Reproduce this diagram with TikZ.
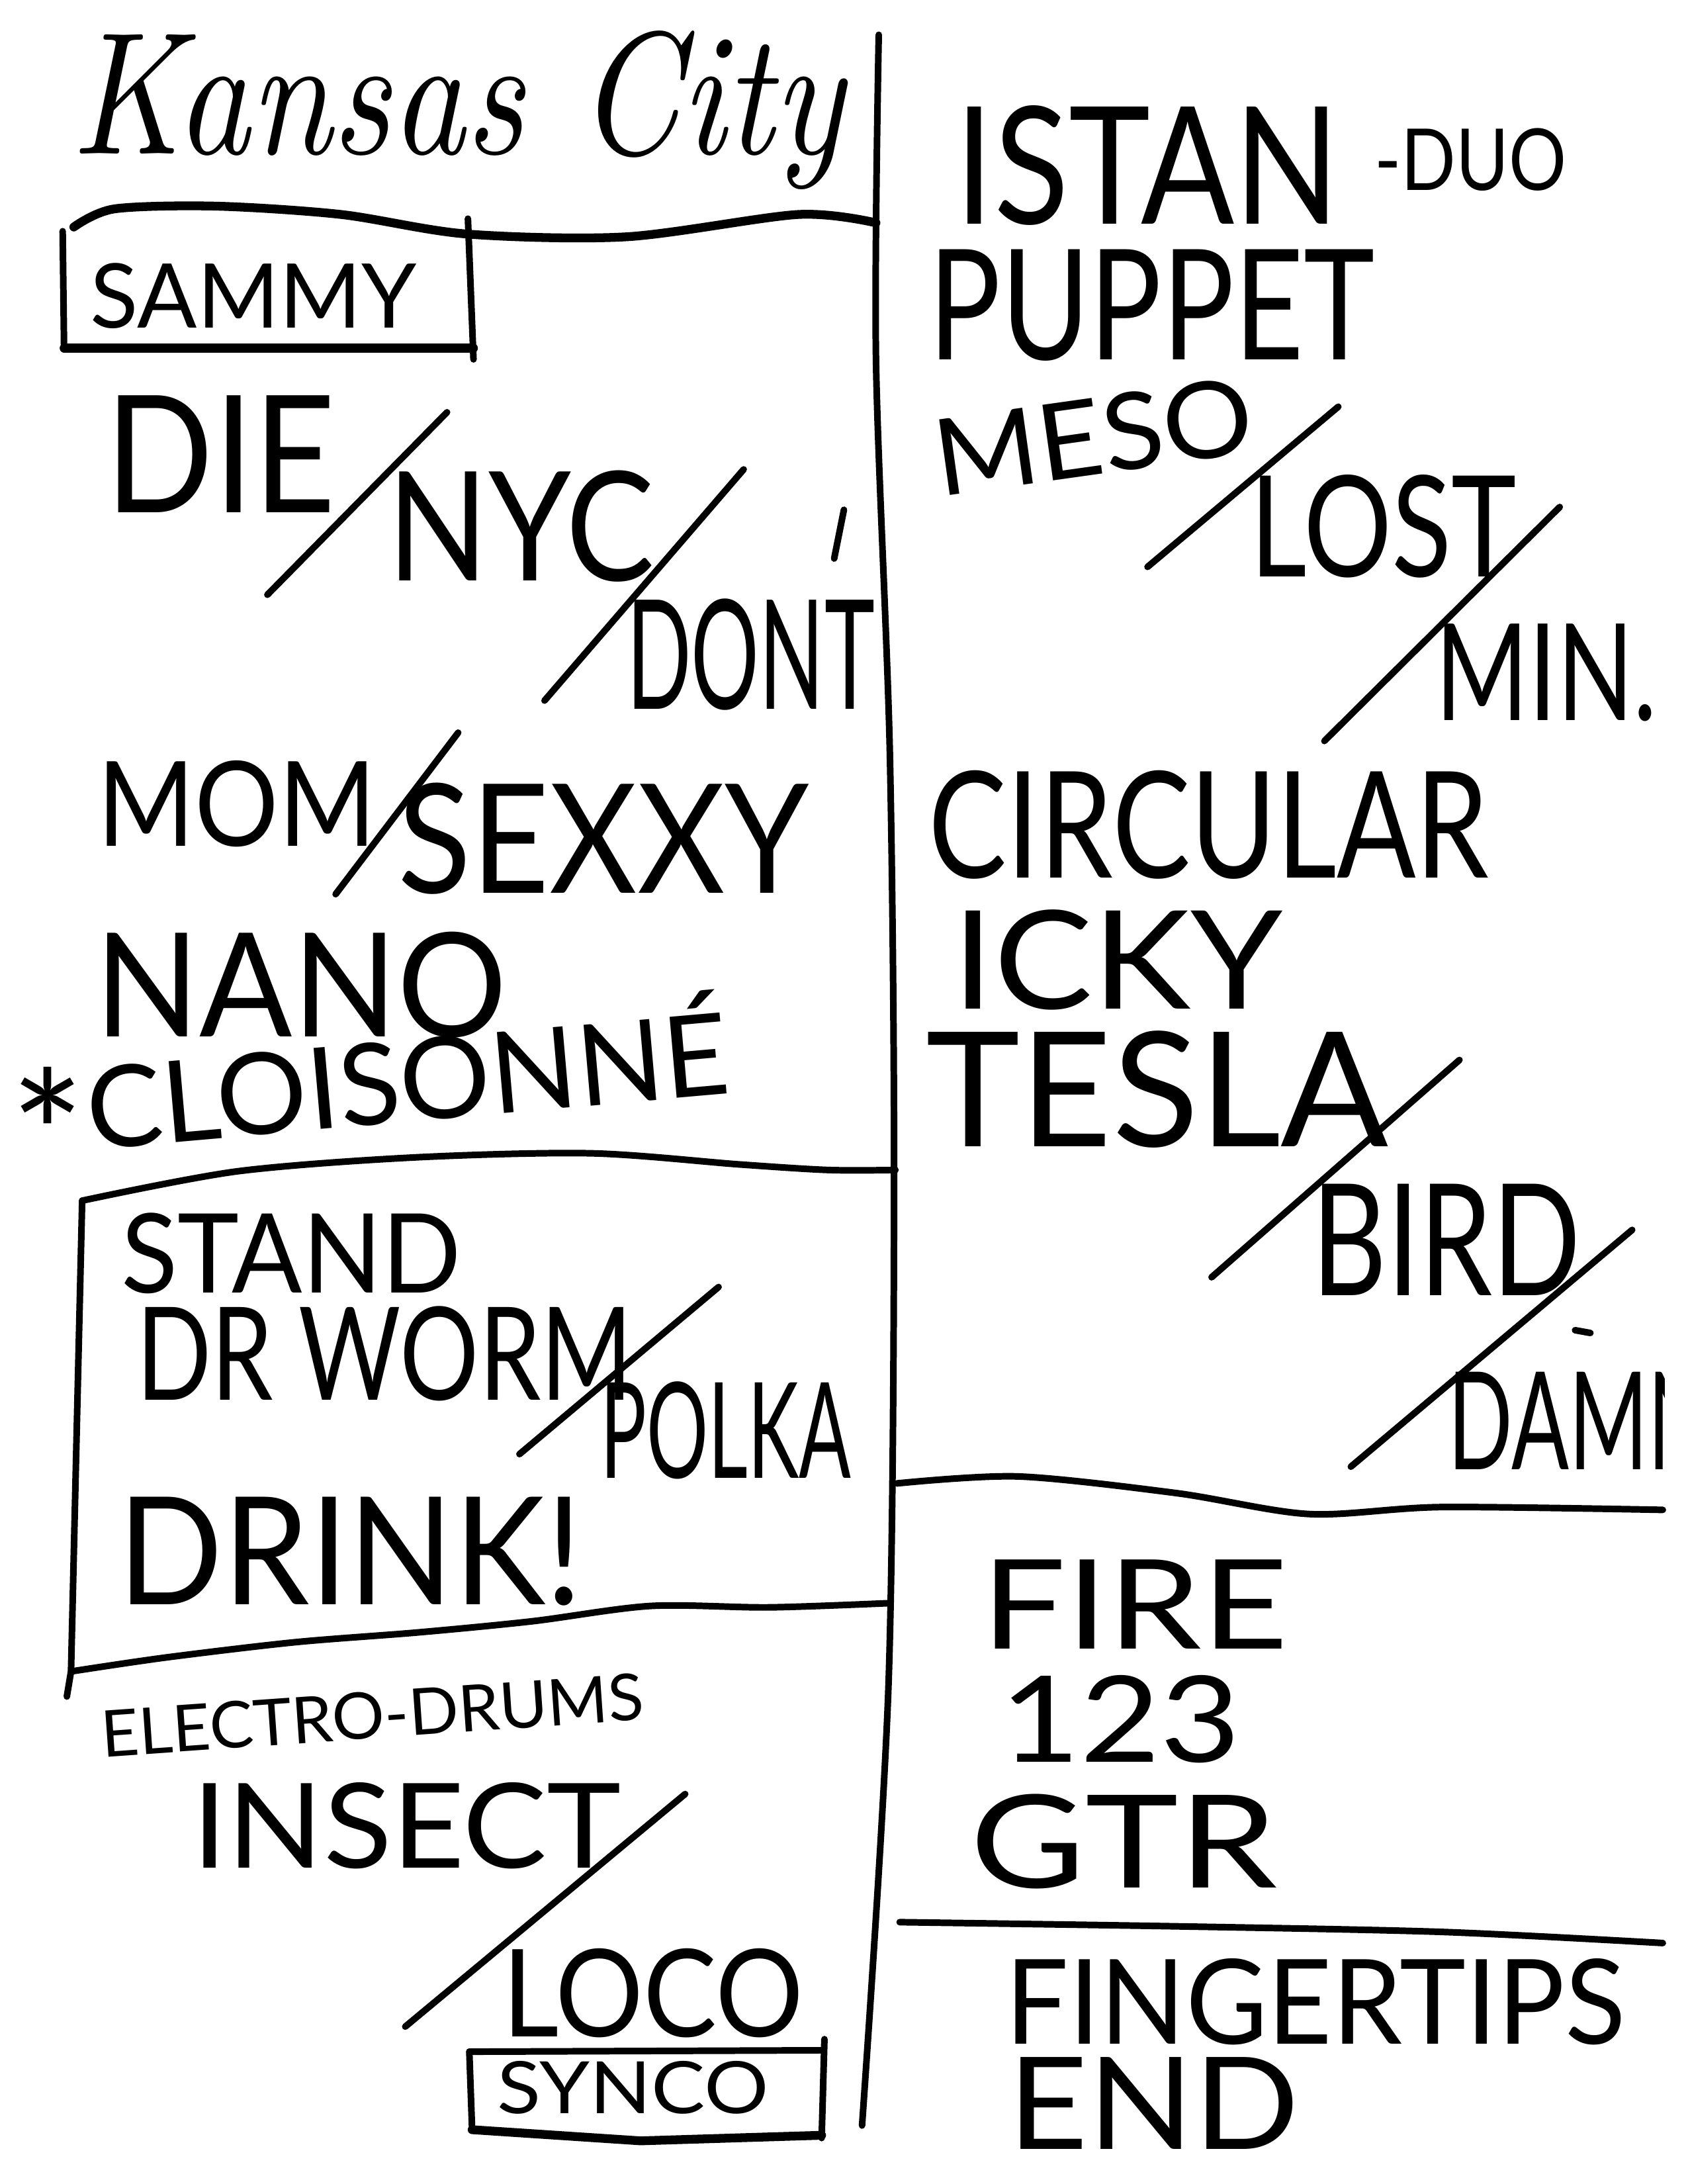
\documentclass[tikz,border=0pt]{standalone}
\usepackage{fontspec}
\usepackage{graphicx}
\IfFontExistsTF{Lato}{\newfontfamily\hand{Lato}}{\newfontfamily\hand{Carlito}}
\newdimen\upx \upx=0.017814cm
\newcommand{\fitbox}[3]{\resizebox*{#1\upx}{#2\upx}{#3}}
\tikzset{
  ink/.style={line width=2.4pt, line cap=round, line join=round},
  heavy/.style={ink, line width=3.2pt},
  txt/.style={inner sep=0pt, outer sep=0pt, anchor=south west, font=\hand},
}
\begin{document}
\begin{tikzpicture}[x=0.017814cm, y=-0.017814cm]
\fill[white] (0,0) rectangle (1212,1568);
\useasboundingbox (0,0) rectangle (1212,1568);

% ---------- frame lines ----------
\draw[ink] plot[smooth, tension=0.5] coordinates {(631,25) (629,257) (639,542) (642,855) (638,1210) (619,1526)};
\draw[heavy] plot[smooth, tension=0.5] coordinates {(53,163) (82,150) (155,148) (245,154) (335,168) (450,170) (573,154) (629,160)};
% SAMMY box
\draw[ink] (45,166) -- (46,250);
\draw[heavy] (46,250) -- (340,250);
\draw[ink] (336,157) -- (340,258);
% STAND box
\draw[ink] plot[smooth, tension=0.5] coordinates {(59,862) (170,841) (297,831) (424,828) (531,836) (595,840) (643,840)};
\draw[ink] (59,862) -- (51,1200) -- (48,1218);
\draw[ink] plot[smooth, tension=0.5] coordinates {(51,1200) (119,1190) (212,1179) (300,1172) (382,1164) (467,1153) (552,1154) (638,1151)};
% right-hand dividers
\draw[ink] plot[smooth, tension=0.5] coordinates {(644,1065) (731,1060) (845,1072) (940,1087) (1035,1082) (1194,1084)};
\draw[ink] plot[smooth, tension=0.5] coordinates {(646,1380) (845,1383) (1035,1387) (1194,1395)};
% SYNCO box
\draw[ink] (337,1473) -- (590,1472);
\draw[ink] (592,1464) -- (590,1535);
\draw[ink] (337,1473) -- (339,1529);
\draw[heavy] (339,1529) -- (460,1537) -- (590,1533);

% ---------- segue slashes ----------
\draw[ink] (192,427) -- (321,296);
\draw[ink] (391,503) -- (534,337);
\draw[ink] (241,642) -- (329,526);
\draw[ink] (373,1044) -- (516,924);
\draw[ink] (291,1455) -- (492,1288);
\draw[ink] (824,407) -- (961,292);
\draw[ink] (951,532) -- (1120,364);
\draw[ink] (870,917) -- (1048,761);
\draw[ink] (970,1053) -- (1172,883);

% ---------- texts, left column ----------
\node[txt, font=\itshape] (title) at (51,136) {\fitbox{555}{114}{Kansas City}};
\node[txt] (sammy) at (65,236) {\fitbox{234}{47}{SAMMY}};
\node[txt] (die) at (76,368) {\fitbox{165}{84}{DIE}};
\node[txt] (nyc) at (278,418) {\fitbox{192}{80}{NYC}};
\node[txt] (dont) at (450,510) {\fitbox{178}{80}{DONT}};
\draw[ink] (606,366) -- (599,401);
\node[txt] (mom) at (70,608) {\fitbox{200}{62}{MOM}};
\node[txt] (sexxy) at (286,642) {\fitbox{295}{80}{SEXXY}};
\node[txt] (nano) at (68,745) {\fitbox{296}{76}{NANO}};
\node[txt, anchor=base, font=\hand\fontsize{64}{64}\selectfont] (star) at (34,861) {*};
\node[txt, rotate=5] (cloisonne) at (65,826) {\fitbox{462}{76}{CLOISONNÉ}};
\node[txt] (stand) at (87,929) {\fitbox{244}{58}{STAND}};
\node[txt] (drworm) at (98,1006) {\fitbox{356}{68}{DR WORM}};
\node[txt] (polka) at (431,1062) {\fitbox{180}{70}{POLKA}};
\node[txt] (drink) at (85,1153) {\fitbox{333}{78}{DRINK!}};
\node[txt, rotate=4] (electro) at (74,1262) {\fitbox{390}{34}{ELECTRO-DRUMS}};
\node[txt] (insect) at (138,1342) {\fitbox{308}{62}{INSECT}};
\node[txt] (loco) at (361,1463) {\fitbox{216}{64}{LOCO}};
\node[txt] (synco) at (357,1518) {\fitbox{195}{38}{SYNCO}};

% ---------- texts, right column ----------
\node[txt] (istan) at (686,162) {\fitbox{276}{86}{ISTAN}};
\node[txt] (duo) at (987,137) {\fitbox{138}{45}{-DUO}};
\node[txt] (puppet) at (667,259) {\fitbox{320}{80}{PUPPET}};
\node[txt, rotate=8] (meso) at (675,357) {\fitbox{230}{56}{MESO}};
\node[txt] (lost) at (898,415) {\fitbox{191}{74}{LOST}};
\node[txt] (min) at (1031,518) {\fitbox{159}{70}{MIN.}};
\node[txt] (circular) at (667,631) {\fitbox{402}{78}{CIRCULAR}};
\node[txt] (icky) at (684,725) {\fitbox{237}{72}{ICKY}};
\node[txt] (tesla) at (665,824) {\fitbox{332}{84}{TESLA}};
\node[txt] (bird) at (942,930) {\fitbox{193}{80}{BIRD}};
\begin{scope}
  \clip (1000,940) rectangle (1195,1070);
  \node[txt] (damn) at (1040,1055) {\fitbox{190}{70}{DAMN}};
\end{scope}
\draw[ink] (1131,955) -- (1142,957);
\node[txt] (fire) at (705,1184) {\fitbox{220}{64}{FIRE}};
\node[txt] (n123) at (718,1266) {\fitbox{173}{63}{123}};
\node[txt] (gtr) at (697,1356) {\fitbox{220}{68}{GTR}};
\node[txt] (fingertips) at (722,1468) {\fitbox{445}{62}{FINGERTIPS}};
\node[txt] (end) at (724,1543) {\fitbox{209}{66}{END}};
\end{tikzpicture}
\end{document}
